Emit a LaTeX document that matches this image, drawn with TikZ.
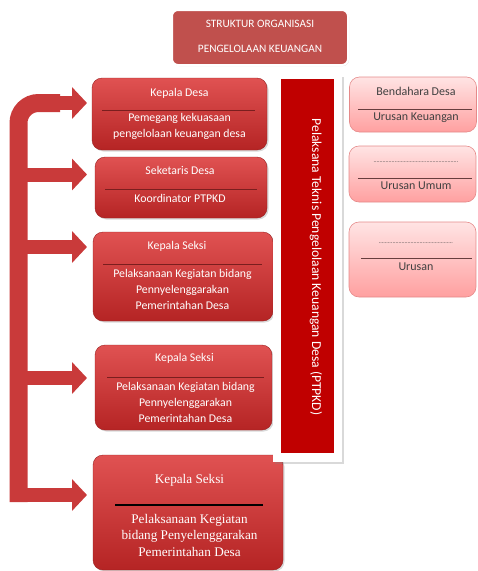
\documentclass[tikz,border=0pt]{standalone}
\usepackage{fontspec}
\setmainfont{Carlito}
\newfontfamily\timesfont{Liberation Serif}
\usetikzlibrary{arrows.meta, positioning, shadows}
\definecolor{boxtop}{HTML}{E05252}
\definecolor{boxbot}{HTML}{B52424}
\definecolor{titlered}{HTML}{C0504D}
\definecolor{ptpkdred}{HTML}{C00000}
\definecolor{pinktop}{HTML}{FFE4E4}
\definecolor{pinkbot}{HTML}{FFA0A0}
\definecolor{pinkedge}{HTML}{E58A8A}
\definecolor{sepred}{HTML}{7A1E1E}
\definecolor{armred}{HTML}{C93A3A}

\begin{document}
\begin{tikzpicture}[x=1pt, y=-1pt,
    redbox/.style={rectangle, rounded corners=10pt, top color=boxtop, bottom color=boxbot, draw=boxbot!85!black, line width=0.4pt, drop shadow={opacity=0.3, shadow xshift=1.5pt, shadow yshift=-1.5pt}},
    pinkbox/.style={rectangle, rounded corners=10pt, top color=pinktop, bottom color=pinkbot, draw=pinkedge, line width=0.6pt},
    wtext/.style={text=white, align=center, inner sep=0pt, font=\fontsize{11.8}{16}\selectfont},
    dtext/.style={text=black!75, align=center, inner sep=0pt, font=\fontsize{12}{16}\selectfont},
    sep/.style={draw=sepred, line width=0.8pt},
    pinksep/.style={draw=black!55!pinkedge, line width=0.8pt},
    arm/.style={draw=armred, line width=14pt, -{Triangle[width=31pt, length=15pt]}},
    spinebar/.style={draw=armred, line width=18pt, rounded corners=20pt}
]
    \useasboundingbox (0,0) rectangle (478,571);

    % judul
    \node[rectangle, rounded corners=6pt, fill=titlered, draw=white, line width=2pt, minimum width=176pt, minimum height=55pt, drop shadow={opacity=0.25, shadow xshift=1pt, shadow yshift=-1pt}] (judul) at (260,37.5) {};
    \node[wtext, font=\fontsize{11.3}{12}\selectfont] (judul1) at (260,24) {STRUKTUR ORGANISASI};
    \node[wtext, font=\fontsize{11.3}{12}\selectfont] (judul2) at (260,49) {PENGELOLAAN KEUANGAN};

    % kotak merah kiri
    \node[redbox, minimum width=175pt, minimum height=72pt] (kdesa) at (179.5,114) {};
    \node[wtext] (kdesaT) at (179.5,93) {Kepala Desa};
    \draw[sep] (102,110) -- (255,110);
    \node[wtext] (kdesaB) at (179.5,126.5) {Pemegang kekuasaan\\pengelolaan keuangan desa};

    \node[redbox, minimum width=172pt, minimum height=61pt] (sekdes) at (181,187.5) {};
    \node[wtext] (sekdesT) at (180,170) {Seketaris Desa};
    \draw[sep] (105,189) -- (257,189);
    \node[wtext] (sekdesB) at (180,198) {Koordinator PTPKD};

    \node[redbox, minimum width=180pt, minimum height=89pt] (kasiA) at (183,276.5) {};
    \node[wtext] (kasiAT) at (177,246) {Kepala Seksi};
    \draw[sep] (103,264) -- (262,264);
    \node[wtext] (kasiAB) at (182.5,289) {Pelaksanaan Kegiatan bidang\\Pennyelenggarakan\\Pemerintahan Desa};

    \node[redbox, minimum width=177pt, minimum height=85pt] (kasiB) at (183.5,387.5) {};
    \node[wtext] (kasiBT) at (184.5,358) {Kepala Seksi};
    \draw[sep] (107,377) -- (264,377);
    \node[wtext] (kasiBB) at (185.5,402) {Pelaksanaan Kegiatan bidang\\Pennyelenggarakan\\Pemerintahan Desa};

    \node[redbox, minimum width=190pt, minimum height=115pt] (kasiC) at (188,512.5) {};
    \node[wtext, font=\timesfont\fontsize{13.2}{16.5}\selectfont] (kasiCT) at (189.5,480) {Kepala Seksi};
    \draw[black, line width=1.2pt] (115,505) -- (263,505);
    \node[wtext, font=\timesfont\fontsize{13.2}{16.5}\selectfont] (kasiCB) at (189.5,535) {Pelaksanaan Kegiatan\\bidang Penyelenggarakan\\Pemerintahan Desa};

    % panel PTPKD
    \node[rectangle, fill=white, minimum width=69pt, minimum height=387pt, drop shadow={opacity=0.3, shadow xshift=1.5pt, shadow yshift=-1.5pt}] (ptpkdbg) at (307.5,268.5) {};
    \node[rectangle, fill=ptpkdred, minimum width=53pt, minimum height=374pt] (ptpkd) at (307.5,266) {};
    \node[wtext, rotate=-90, font=\fontsize{13.6}{14}\selectfont] (ptpkdT) at (316,267) {Pelaksana Teknis Pengelolaan Keuangan Desa (PTPKD)};

    % kotak merah muda kanan
    \node[pinkbox, minimum width=127pt, minimum height=55pt] (bend) at (413,104.5) {};
    \node[dtext] (bendT) at (416,91) {Bendahara Desa};
    \draw[pinksep] (358,109) -- (472,109);
    \node[dtext] (bendB) at (416,118) {Urusan Keuangan};

    \node[pinkbox, minimum width=127pt, minimum height=56pt] (umum) at (412.5,174) {};
    \node[dtext, font=\fontsize{6}{8}\selectfont] (umumT) at (416,162) {........................................................};
    \draw[pinksep] (358,178) -- (472,178);
    \node[dtext] (umumB) at (416,186) {Urusan Umum};

    \node[pinkbox, minimum width=127pt, minimum height=75pt] (urusan) at (412.5,259.5) {};
    \node[dtext, font=\fontsize{6}{8}\selectfont] (urusanT) at (416,243) {.................................................};
    \draw[pinksep] (361,258) -- (472,258);
    \node[dtext] (urusanB) at (416,267) {Urusan};

    % panah
    \coordinate (spine) at (18.5,502);
    \coordinate (ujungA) at (87,103);
    \coordinate (ujungB) at (87,174.5);
    \coordinate (ujungC) at (87,247);
    \coordinate (ujungD) at (87,378);
    \coordinate (ujungE) at (87,495);
    \draw[spinebar] (spine) |- (60,103);
    \draw[arm] (50,103) -- (ujungA);
    \draw[arm] (spine |- ujungB) -- (ujungB);
    \draw[arm] (spine |- ujungC) -- (ujungC);
    \draw[arm] (spine |- ujungD) -- (ujungD);
    \draw[arm] (spine |- ujungE) -- (ujungE);
\end{tikzpicture}
\end{document}
